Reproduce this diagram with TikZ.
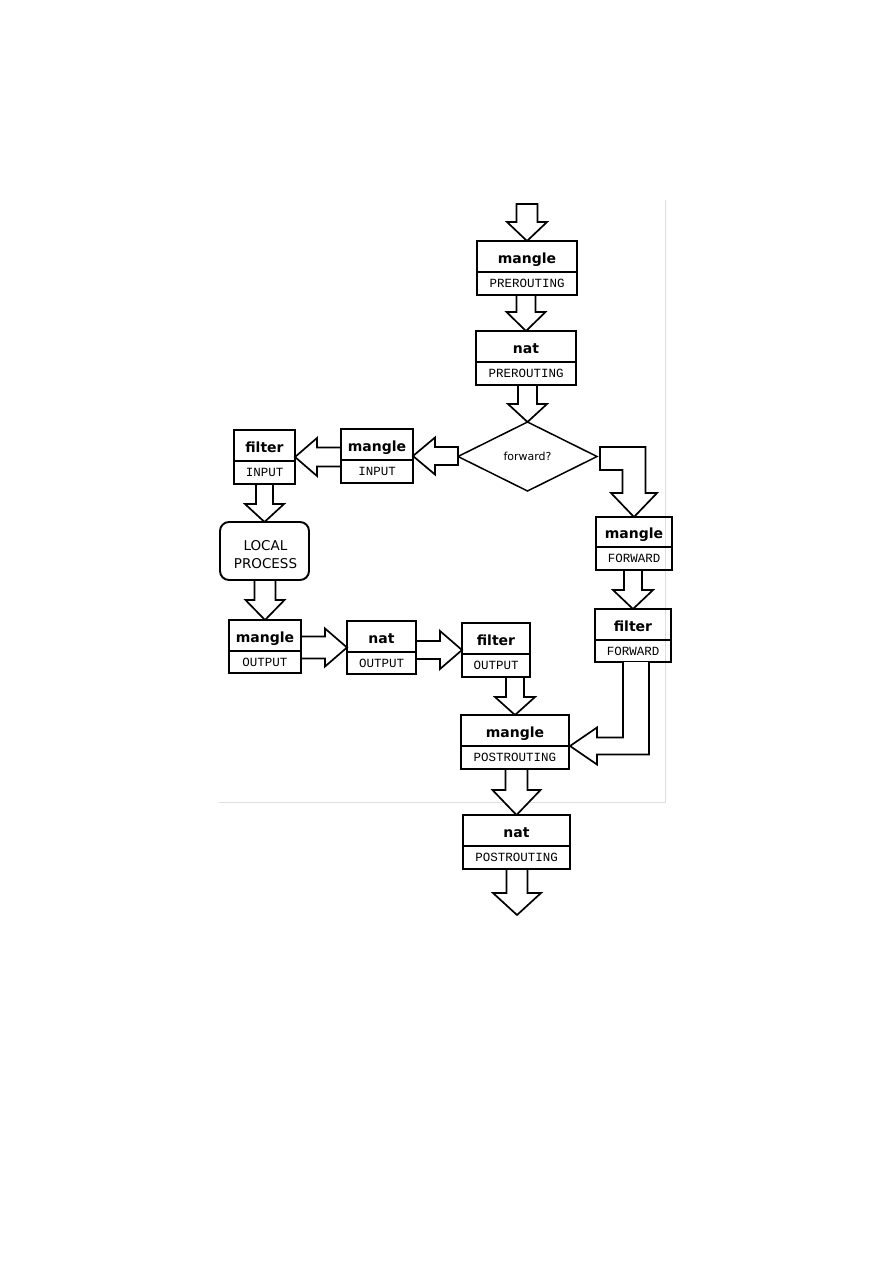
\documentclass[tikz,border=0pt]{standalone}
\usepackage{fontspec}
\setmainfont{DejaVu Sans}
\newfontfamily\lmono{Liberation Mono}
\usetikzlibrary{calc,fit,shapes.geometric}
\newcommand\tbox[8]{%
  \coordinate (#1-nw) at (#2,#3);
  \coordinate (#1-se) at (#4,#5);
  \node[frame, fit=(#1-nw)(#1-se)] (#1) {};
  \coordinate (#1-dl) at (#2,#6);
  \coordinate (#1-dr) at (#4,#6);
  \draw[frameline] (#1-dl) -- (#1-dr);
  \node[ttl] (#1-t) at ($(#1-dl)!0.5!(#1-dr)+(0,-9)$) {#7};
  \node[sublbl] (#1-s) at ($(#1-dl)!0.5!(#1-dr)+(0,15)$) {#8};
}
% down arrow: from #1 to tip #2, shaft half #3, head half #4, head length #5
\newcommand\darrow[5]{%
  \draw[blk] ($(#2 |- #1)+(-#3,0)$) -- ($(#2)+(-#3,-#5)$) -- ($(#2)+(-#4,-#5)$) -- (#2)
    -- ($(#2)+(#4,-#5)$) -- ($(#2)+(#3,-#5)$) -- ($(#2 |- #1)+(#3,0)$) -- cycle;
}
% left arrow
\newcommand\larrow[5]{%
  \draw[blk] ($(#2 -| #1)+(0,-#3)$) -- ($(#2)+(#5,-#3)$) -- ($(#2)+(#5,-#4)$) -- (#2)
    -- ($(#2)+(#5,#4)$) -- ($(#2)+(#5,#3)$) -- ($(#2 -| #1)+(0,#3)$) -- cycle;
}
% right arrow
\newcommand\rarrow[5]{%
  \draw[blk] ($(#2 -| #1)+(0,-#3)$) -- ($(#2)+(-#5,-#3)$) -- ($(#2)+(-#5,-#4)$) -- (#2)
    -- ($(#2)+(-#5,#4)$) -- ($(#2)+(-#5,#3)$) -- ($(#2 -| #1)+(0,#3)$) -- cycle;
}
\begin{document}
\begin{tikzpicture}[x=1pt,y=-1pt,
  frame/.style={draw, line width=1.9pt, inner sep=0pt, outer sep=0pt},
  frameline/.style={line width=1.7pt},
  ttl/.style={font=\fontsize{14}{16}\selectfont\bfseries, inner sep=0pt, anchor=base},
  sublbl/.style={font=\lmono\fontsize{12.5}{14}\selectfont, inner sep=0pt, anchor=base},
  blk/.style={draw, fill=white, line width=1.7pt, line join=miter},
  greyline/.style={draw=black!13, line width=0.9pt}
]
\useasboundingbox (0,0) rectangle (893,1263);
% faint frame
\coordinate (g1) at (665.5,200);
\coordinate (g2) at (665.5,802);
\coordinate (g3) at (219,802);
\draw[greyline] (g1) -- (g2) -- (g3);

% boxes
\tbox{mpre}{477}{241}{577}{295}{272}{mangle}{PREROUTING}
\tbox{npre}{476}{331}{576}{385}{362}{nat}{PREROUTING}
\tbox{min}{341}{429}{413}{483}{460}{mangle}{INPUT}
\tbox{fin}{234}{430}{295}{484}{461}{filter}{INPUT}
\tbox{mout}{229}{620}{301}{673}{651}{mangle}{OUTPUT}
\tbox{nout}{347}{621}{416}{674}{652}{nat}{OUTPUT}
\tbox{fout}{462}{623}{530}{677}{654}{filter}{OUTPUT}
\tbox{mfwd}{596}{517}{672}{570}{547}{mangle}{FORWARD}
\tbox{ffwd}{595}{609}{671}{662}{640}{filter}{FORWARD}
\tbox{mpost}{461}{715}{569}{769}{746}{mangle}{POSTROUTING}
\tbox{npost}{463}{815}{570}{869}{846}{nat}{POSTROUTING}

% local process
\coordinate (lp-nw) at (220,522);
\coordinate (lp-se) at (309,580);
\node[frame, rounded corners=9pt, fit=(lp-nw)(lp-se)] (lp) {};
\node[align=center, inner sep=0pt, font=\fontsize{13.5}{18}\selectfont] (lp-t)
  at ($(lp.center)+(1,4)$) {LOCAL\\PROCESS};

% decision
\node[draw, diamond, line width=1.5pt, minimum width=139pt, minimum height=69pt,
  inner sep=0pt, outer sep=0pt, aspect=2, font=\fontsize{11}{12}\selectfont] (fw) at (527.5,456.5) {forward?};

% free ends
\coordinate (in) at (528,204);
\coordinate (out) at (517,915);

% arrows
\darrow{in}{mpre.north}{10.5}{20}{19}
\darrow{mpre.south}{npre.north}{9.5}{19.5}{19}
\darrow{npre.south}{fw.north}{9.5}{19.5}{18}
\larrow{fw.west}{min.east}{9}{18.5}{22}
\larrow{min.west}{fin.east}{9.5}{19}{22}
\darrow{fin.south}{lp.north}{8.5}{19.5}{18}
\darrow{lp.south}{mout.north}{10.5}{19.5}{20}
\rarrow{mout.east}{nout.west}{11}{19}{22}
\rarrow{nout.east}{fout.west}{9}{19}{22}
\darrow{fout.south}{mpost.north}{9}{20}{18}
\darrow{mfwd.south}{ffwd.north}{9}{20}{19}
\darrow{mpost.south}{npost.north}{11}{24}{25}
\darrow{npost.south}{out}{10.5}{24}{22}

% bent arrow: forward? -> mangle FORWARD
\coordinate (s1) at ($(fw.east)+(3,2)$);
\draw[blk] ($(s1)+(0,-11.5)$) -- ($(mfwd.north |- s1)+(11.5,-11.5)$)
  -- ($(mfwd.north)+(11.5,-24)$) -- ($(mfwd.north)+(23,-24)$) -- (mfwd.north)
  -- ($(mfwd.north)+(-23,-24)$) -- ($(mfwd.north)+(-11.5,-24)$)
  -- ($(mfwd.north |- s1)+(-11.5,11.5)$) -- ($(s1)+(0,11.5)$) -- cycle;

% bent arrow: filter FORWARD -> mangle POSTROUTING
\coordinate (t2) at ($(mpost.east)+(1,4)$);
\coordinate (s2) at ($(ffwd.south)+(3,0)$);
\draw[blk] ($(s2)+(-13,0)$) -- ($(s2 |- t2)+(-13,-8.5)$) -- ($(t2)+(27,-8.5)$)
  -- ($(t2)+(27,-18.5)$) -- (t2) -- ($(t2)+(27,18.5)$) -- ($(t2)+(27,8.5)$)
  -- ($(s2 |- t2)+(13,8.5)$) -- ($(s2)+(13,0)$);
\end{tikzpicture}
\end{document}
